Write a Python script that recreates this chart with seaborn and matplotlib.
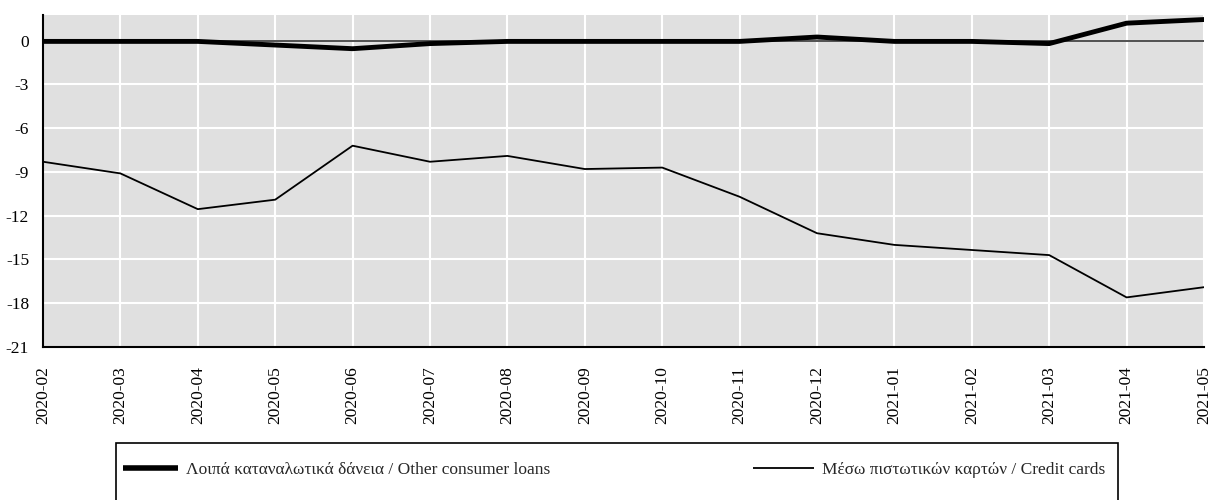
import matplotlib
matplotlib.use("Agg")
import matplotlib.pyplot as plt
import seaborn as sns
import pandas as pd
from matplotlib.patches import Rectangle
from matplotlib.lines import Line2D

months = ["2020-02", "2020-03", "2020-04", "2020-05", "2020-06", "2020-07", "2020-08",
          "2020-09", "2020-10", "2020-11", "2020-12", "2021-01", "2021-02", "2021-03",
          "2021-04", "2021-05"]
other_loans = [-0.05, -0.05, -0.05, -0.3, -0.55, -0.2, -0.05, -0.05, -0.05, -0.05,
               0.25, -0.05, -0.05, -0.2, 1.2, 1.45]
credit_cards = [-8.3, -9.1, -11.55, -10.9, -7.2, -8.3, -7.9, -8.8, -8.7, -10.7,
                -13.2, -14.0, -14.35, -14.7, -17.6, -16.9]
yticks = [0, -3, -6, -9, -12, -15, -18, -21]
label_other = "Λοιπά καταναλωτικά δάνεια / Other consumer loans"
label_cards = "Μέσω πιστωτικών καρτών / Credit cards"

sns.set_theme(style="darkgrid")
plt.rcParams["font.family"] = ["Liberation Serif", "DejaVu Serif"]

df = pd.DataFrame({"month": months, "other": other_loans, "cards": credit_cards})

fig = plt.figure(figsize=(12.14, 5.0), dpi=100)
ax = fig.add_axes([43 / 1214, 1 - 347 / 500, (1204 - 43) / 1214, (347 - 15) / 500])
ax.set_facecolor("#e0e0e0")

ax.axhline(0, color="#333333", lw=1.2, zorder=1)
sns.lineplot(data=df, x="month", y="cards", ax=ax, color="black", lw=1.3, sort=False, zorder=3)
sns.lineplot(data=df, x="month", y="other", ax=ax, color="black", lw=3.5, sort=False, zorder=4)

ax.set_xlim(0, len(months) - 1)
ax.set_ylim(-21, 1.76)
ax.set_yticks(yticks)
ax.set_yticklabels([str(v) for v in yticks])
ax.set_xticks(range(len(months)))
ax.set_xticklabels(months, rotation=90)
ax.tick_params(axis="both", length=0, labelsize=12.5, colors="black")
ax.tick_params(axis="x", pad=14)
ax.tick_params(axis="y", pad=10)
ax.set_xlabel("")
ax.set_ylabel("")
ax.grid(True, color="white", lw=1.5)
for s in ["top", "right"]:
    ax.spines[s].set_visible(False)
for s in ["left", "bottom"]:
    ax.spines[s].set_visible(True)
    ax.spines[s].set_color("black")
    ax.spines[s].set_linewidth(1.5)

# legend frame
fig.patches.append(Rectangle((116 / 1214, -0.1), 1002 / 1214, 0.1 + (500 - 443) / 500,
                             transform=fig.transFigure, fill=False, edgecolor="black", lw=1.2))

h1 = [Line2D([], [], color="black", lw=4, solid_capstyle="butt")]
h2 = [Line2D([], [], color="black", lw=1.3, solid_capstyle="butt")]
fig.legend(h1, [label_other], loc="center left", bbox_to_anchor=(123 / 1214, 1 - 470 / 500),
           frameon=False, fontsize=12.5, handlelength=3.17, handletextpad=0.46, borderpad=0, borderaxespad=0)
fig.legend(h2, [label_cards], loc="center left", bbox_to_anchor=(753 / 1214, 1 - 470 / 500),
           frameon=False, fontsize=12.5, handlelength=3.5, handletextpad=0.46, borderpad=0, borderaxespad=0)

fig.savefig("out.png", dpi=100)
